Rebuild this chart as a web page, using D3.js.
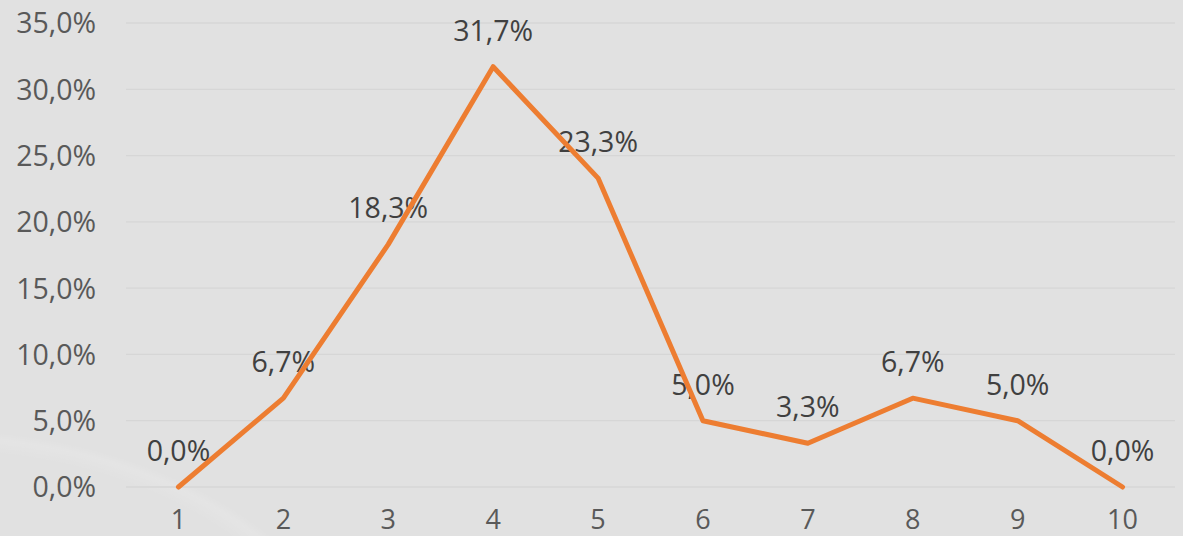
<!DOCTYPE html>
<html><head><meta charset="utf-8">
<script src="https://cdn.jsdelivr.net/npm/d3@7"></script>
<style>
html,body{margin:0;padding:0;background:#e1e1e1;overflow:hidden}
svg{display:block}
text{font-family:"Open Sans",sans-serif}
</style></head>
<body>
<svg id="c" width="1183" height="536"></svg>
<script>
const categories = ["1","2","3","4","5","6","7","8","9","10"];
const values = [0.0, 6.7, 18.3, 31.7, 23.3, 5.0, 3.3, 6.7, 5.0, 0.0];
const yTicks = [0, 5, 10, 15, 20, 25, 30, 35];

const W = 1183, H = 536;
const m = {left:126, right:8, top:23, bottom:49};
const FS = 28.5;
const svg = d3.select("#c");

// background with faint swoosh
const defs = svg.append("defs");
const rg = defs.append("radialGradient").attr("id","sw").attr("cx","50%").attr("cy","50%").attr("r","50%");
rg.append("stop").attr("offset","0.93").attr("stop-color","#ffffff").attr("stop-opacity",0);
rg.append("stop").attr("offset","0.975").attr("stop-color","#ffffff").attr("stop-opacity",0.12);
rg.append("stop").attr("offset","1").attr("stop-color","#ffffff").attr("stop-opacity",0);
svg.append("rect").attr("width",W).attr("height",H).attr("fill","#e1e1e1");
svg.append("ellipse").attr("cx",-60).attr("cy",740).attr("rx",440).attr("ry",310).attr("fill","url(#sw)");

const x = d3.scaleBand().domain(categories).range([m.left, W - m.right]);
const y = d3.scaleLinear().domain([0, 35]).range([H - m.bottom, m.top]);
const fmt = v => d3.format(".1f")(v).replace(".", ",") + "%";

// gridlines
svg.append("g").selectAll("line").data(yTicks).join("line")
  .attr("x1", m.left).attr("x2", W - m.right)
  .attr("y1", d => y(d)).attr("y2", d => y(d))
  .attr("stroke", "#d6d6d6").attr("stroke-width", 1.3);

// y axis
const yAxis = svg.append("g").attr("transform", `translate(${m.left - 30},0)`)
  .call(d3.axisLeft(y).tickValues(yTicks).tickFormat(fmt).tickSize(0).tickPadding(0));
yAxis.select(".domain").remove();
yAxis.selectAll("text").attr("font-size", FS).attr("fill", "#595959")
  .attr("font-family", '"Open Sans",sans-serif').attr("dy", "0.35em");

// x axis
const xAxis = svg.append("g").attr("transform", `translate(0,${H - m.bottom})`)
  .call(d3.axisBottom(x).tickSize(0).tickPadding(42));
xAxis.select(".domain").remove();
xAxis.selectAll("text").attr("font-size", 27).attr("fill", "#595959").attr("dy", "0")
  .attr("font-family", '"Open Sans",sans-serif');

const cx = d => x(d) + x.bandwidth() / 2;
const pts = categories.map((c, i) => ({c, v: values[i]}));

// labels
svg.append("g").selectAll("text").data(pts).join("text")
  .attr("x", d => cx(d.c)).attr("y", d => y(d.v) - 26)
  .attr("text-anchor", "middle").attr("font-size", FS).attr("fill", "#404040")
  .text(d => fmt(d.v));

// line
svg.append("path").datum(pts)
  .attr("fill", "none").attr("stroke", "#ed7d31").attr("stroke-width", 5)
  .attr("stroke-linejoin", "round").attr("stroke-linecap", "round")
  .attr("d", d3.line().x(d => cx(d.c)).y(d => y(d.v)));
</script>
</body></html>
